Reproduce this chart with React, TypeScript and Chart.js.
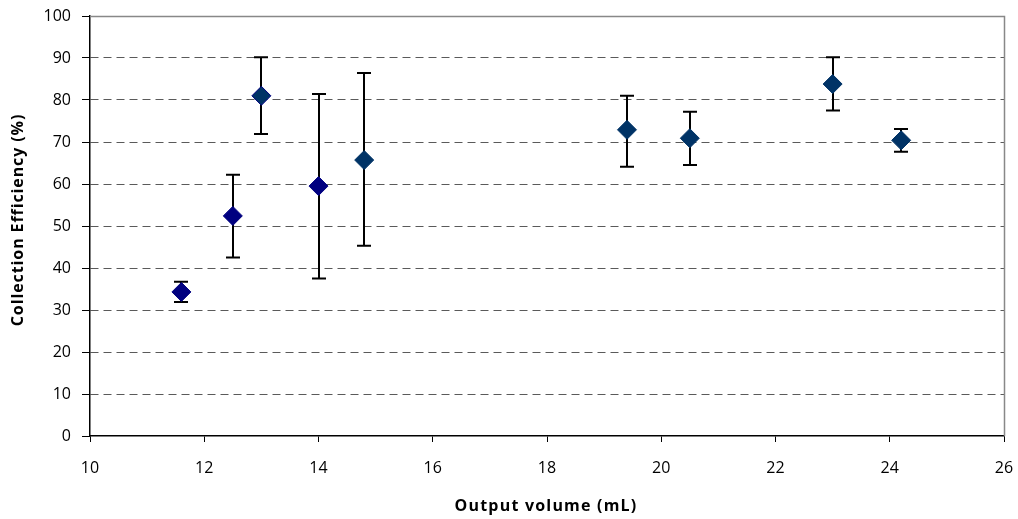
import React, { useEffect, useRef } from "react";
import { Chart, registerables } from "chart.js";

Chart.register(...registerables);

// Data
const outputVolume = [11.6, 12.5, 13.0, 14.0, 14.8, 19.4, 20.5, 23.0, 24.2];
const efficiency = [34.3, 52.4, 81.0, 59.5, 65.7, 72.9, 70.9, 83.8, 70.4];
const errorLow = [31.9, 42.5, 71.9, 37.5, 45.3, 64.1, 64.5, 77.5, 67.7];
const errorHigh = [36.7, 62.2, 90.2, 81.4, 86.4, 81.0, 77.2, 90.2, 73.1];
const pointFill = ["#000080", "#000080", "#003366", "#000080", "#003366", "#003366", "#003366", "#003366", "#003366"];
const pointEdge = ["#000080", "#000080", "#000080", "#000080", "#003366", "#003366", "#003366", "#003366", "#003366"];

const xTitle = "Output volume (mL)";
const yTitle = "Collection Efficiency (%)";

const FONT = "'Open Sans', 'DejaVu Sans', sans-serif";

const errorBarPlugin = {
  id: "errorBars",
  beforeDatasetsDraw(chart: any) {
    const { ctx, scales } = chart;
    const xs = scales.x;
    const ys = scales.y;
    ctx.save();
    ctx.strokeStyle = "#000000";
    ctx.lineWidth = 2;
    const cap = 7;
    for (let i = 0; i < outputVolume.length; i++) {
      const px = Math.round(xs.getPixelForValue(outputVolume[i]));
      const yLo = ys.getPixelForValue(errorLow[i]);
      const yHi = ys.getPixelForValue(errorHigh[i]);
      ctx.beginPath();
      ctx.moveTo(px, yLo);
      ctx.lineTo(px, yHi);
      ctx.moveTo(px - cap, yLo);
      ctx.lineTo(px + cap, yLo);
      ctx.moveTo(px - cap, yHi);
      ctx.lineTo(px + cap, yHi);
      ctx.stroke();
    }
    ctx.restore();
  },
};

const framePlugin = {
  id: "plotFrame",
  beforeDatasetsDraw(chart: any) {
    const { ctx, chartArea } = chart;
    ctx.save();
    ctx.strokeStyle = "#888888";
    ctx.lineWidth = 1.5;
    ctx.beginPath();
    ctx.moveTo(chartArea.left, chartArea.top + 0.5);
    ctx.lineTo(chartArea.right + 0.5, chartArea.top + 0.5);
    ctx.lineTo(chartArea.right + 0.5, chartArea.bottom);
    ctx.stroke();
    ctx.restore();
  },
};

const axisTitlePlugin = {
  id: "axisTitles",
  afterDraw(chart: any) {
    const { ctx, chartArea } = chart;
    ctx.save();
    ctx.font = `bold 16px ${FONT}`;
    (ctx as any).letterSpacing = "1.2px";
    ctx.fillStyle = "#000000";
    ctx.textAlign = "center";
    ctx.textBaseline = "middle";
    ctx.fillText(xTitle, (chartArea.left + chartArea.right) / 2 - 1, 506);
    ctx.restore();

    ctx.save();
    ctx.font = `bold 16px ${FONT}`;
    (ctx as any).letterSpacing = "0.9px";
    ctx.fillStyle = "#000000";
    ctx.textAlign = "center";
    ctx.textBaseline = "middle";
    ctx.translate(18, 220);
    ctx.rotate(-Math.PI / 2);
    ctx.fillText(yTitle, 0, 0);
    ctx.restore();
  },
};

export default function App() {
  const canvasRef = useRef<HTMLCanvasElement | null>(null);

  useEffect(() => {
    if (!canvasRef.current) return;
    const chart = new Chart(canvasRef.current, {
      type: "scatter",
      data: {
        datasets: [
          {
            label: "Collection Efficiency",
            data: outputVolume.map((x, i) => ({ x, y: efficiency[i] })),
            pointStyle: "rectRot",
            pointRadius: 9.5,
            pointHoverRadius: 9.5,
            pointBackgroundColor: pointFill,
            pointBorderColor: pointEdge,
            pointBorderWidth: 1,
          },
        ],
      },
      options: {
        responsive: false,
        animation: false,
        layout: { padding: { top: 16, right: 14, left: 0, bottom: 0 } },
        plugins: {
          legend: { display: false },
          tooltip: { enabled: false },
        },
        scales: {
          x: {
            type: "linear",
            min: 10,
            max: 26,
            afterFit(scale: any) {
              scale.height = 83;
              scale.paddingLeft = 0;
              scale.paddingRight = 0;
            },
            ticks: {
              stepSize: 2,
              color: "#000000",
              font: { family: FONT, size: 16 },
              padding: 17,
              maxRotation: 0,
            },
            grid: {
              drawOnChartArea: false,
              drawTicks: true,
              tickLength: 6,
              tickColor: "#000000",
              tickWidth: 1,
            },
            border: { display: true, color: "#000000", width: 1.5 },
          },
          y: {
            type: "linear",
            min: 0,
            max: 100,
            afterFit(scale: any) {
              scale.width = 90;
              scale.paddingTop = 0;
              scale.paddingBottom = 0;
            },
            ticks: {
              stepSize: 10,
              color: "#000000",
              font: { family: FONT, size: 16 },
              padding: 11,
            },
            grid: {
              color: (c: any) =>
                c.tick && (c.tick.value === 100 || c.tick.value === 0) ? "rgba(0,0,0,0)" : "#5a5a5a",
              lineWidth: 1,
              drawTicks: true,
              tickLength: 8,
              tickColor: "#000000",
              tickWidth: 1,
              tickBorderDash: [],
            },
            border: { display: true, color: "#000000", width: 1.5, dash: [8, 5] },
            title: { display: false, text: yTitle },
          },
        },
      },
      plugins: [framePlugin, errorBarPlugin, axisTitlePlugin],
    });
    return () => chart.destroy();
  }, []);

  return (
    <div style={{ position: "absolute", left: 0, top: 0, width: 1018, height: 519, background: "#ffffff" }}>
      <canvas ref={canvasRef} width={1018} height={519} />
    </div>
  );
}
